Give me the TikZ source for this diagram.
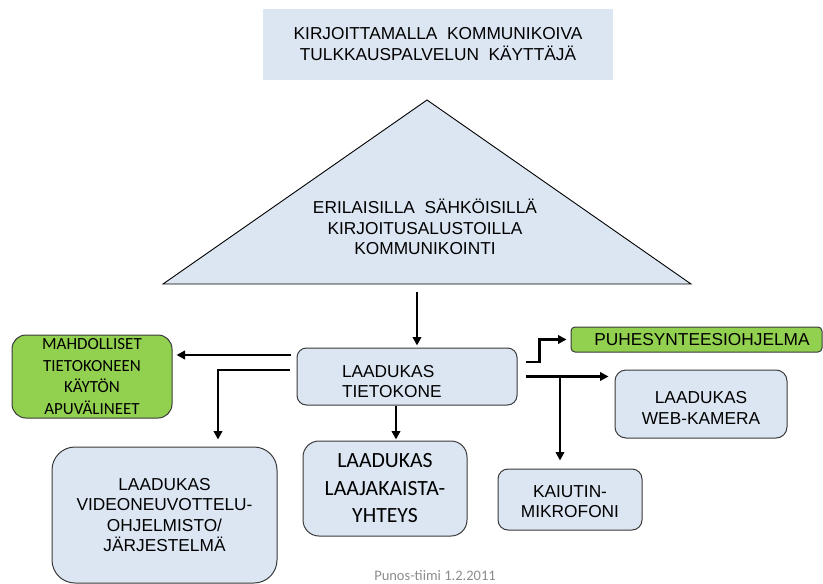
\documentclass[tikz,border=0pt]{standalone}
\usepackage{fontspec}
\setmainfont{Liberation Sans}
\newfontfamily\calfont{Carlito}
\usetikzlibrary{arrows.meta}

\definecolor{boxblue}{HTML}{DCE6F2}
\definecolor{boxgreen}{HTML}{92D050}
\definecolor{edgegray}{HTML}{3A3A3A}
\definecolor{footgray}{HTML}{8C8C8C}

\tikzset{
  arialtext/.style={font=\fontsize{17.3}{20.5}\selectfont, align=center},
  box/.style={draw=edgegray, line width=1pt, fill=boxblue, inner sep=0pt,
              arialtext},
  greenbox/.style={box, fill=boxgreen},
  arr/.style={line width=2.7pt, -{Triangle[length=8.5pt,width=8.5pt]}},
}
% a tall invisible strut that lowers a block of lines inside its box
\newcommand{\toplift}[1]{\rule{0pt}{#1}}

\begin{document}
\begin{tikzpicture}[x=1pt,y=-1pt]
\useasboundingbox (0,0) rectangle (823,584);

% user at the top
\node[fill=boxblue, inner sep=0pt, minimum width=350pt, minimum height=71pt,
      arialtext] (user) at (438,44)
  {KIRJOITTAMALLA\ \ KOMMUNIKOIVA\\TULKKAUSPALVELUN\ \ KÄYTTÄJÄ};

% triangle of written communication
\draw[fill=boxblue, draw=black, line width=0.9pt]
  (427,100) -- (691,284) -- (163,284) -- cycle;
\coordinate (tribase) at (417,284);
\node[arialtext] (tri) at (425,227)
  {ERILAISILLA\ \ SÄHKÖISILLÄ\\KIRJOITUSALUSTOILLA\\KOMMUNIKOINTI};

% central computer
\node[box, minimum height=57pt, text width=130pt, inner xsep=45pt,
      align=left, rounded corners=9.5pt] (pc) at (407,376.5)
  {\toplift{22pt}LAADUKAS\\TIETOKONE};

% surrounding equipment
\node[greenbox, minimum width=160pt, minimum height=83pt, rounded corners=14pt,
      font=\calfont\fontsize{17}{21.4}\selectfont] (apu) at (92,376.5)
  {MAHDOLLISET\\TIETOKONEEN\\KÄYTÖN\\APUVÄLINEET};
\node[greenbox, minimum width=251pt, minimum height=25pt, rounded corners=4pt]
  (puhe) at (696.5,339.5) {\hspace*{11pt}PUHESYNTEESIOHJELMA};
\node[box, minimum width=172pt, minimum height=68pt, rounded corners=11pt]
  (cam) at (701,404) {\toplift{20pt}LAADUKAS\\WEB-KAMERA};
\node[box, minimum width=144pt, minimum height=61pt, rounded corners=10pt]
  (mic) at (570,499.5) {\toplift{16pt}KAIUTIN-\\MIKROFONI};
\node[box, minimum width=164pt, minimum height=95pt, rounded corners=16pt,
      font=\calfont\fontsize{21.7}{27.5}\selectfont] (net) at (385,488.5)
  {LAADUKAS\\LAAJAKAISTA-\\YHTEYS};
\node[box, minimum width=225pt, minimum height=136pt, rounded corners=23pt]
  (video) at (164.5,515)
  {LAADUKAS\\VIDEONEUVOTTELU-\\OHJELMISTO/\\JÄRJESTELMÄ};

% footer
\node[font=\calfont\fontsize{14.5}{16}\selectfont, text=footgray]
  (foot) at (435,576) {Punos-tiimi 1.2.2011};

% connectors
\draw[arr, shorten <=8pt, shorten >=2pt] (tribase) -- (tribase |- pc.north);
\draw[arr, shorten >=4pt] ([shift={(-6,-21.5)}]pc.west) coordinate (sa)
  -- (apu.east |- sa);
\draw[arr, shorten >=7pt] ([shift={(-7,-6.5)}]pc.west)
  -| ([xshift=53.5pt]video.north);
\draw[arr, shorten >=1pt] ([xshift=-11pt]pc.south) -- ([xshift=11pt]net.north);
\draw[arr, shorten >=4pt] ([shift={(8,-14.5)}]pc.east) -- ++(14,0)
  |- (puhe.west);
\draw[arr, shorten >=6pt] ([xshift=8pt]pc.east) coordinate (sc)
  -- (cam.west |- sc);
\coordinate (micin) at ([xshift=-10pt]mic.north);
\draw[arr, shorten >=8pt] (micin |- pc.east) -- (micin);
\end{tikzpicture}
\end{document}
